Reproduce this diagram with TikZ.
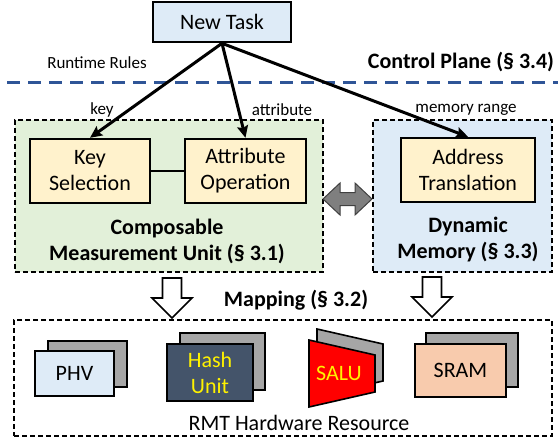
\documentclass[tikz,border=0pt]{standalone}
\usepackage{fontspec}
\setmainfont{Carlito}
\usetikzlibrary{arrows.meta}
\definecolor{cpblue}{HTML}{2F5597}
\definecolor{lightblue}{HTML}{DEEBF7}
\definecolor{lightgreen}{HTML}{E2F0D9}
\definecolor{lightyellow}{HTML}{FFF2CC}
\definecolor{sheetgray}{HTML}{A6A6A6}
\definecolor{slate}{HTML}{44546A}
\definecolor{sramorange}{HTML}{F8CBAD}
\definecolor{arrowgray}{HTML}{7F7F7F}
\definecolor{arrowedge}{HTML}{404040}
\begin{document}
\begin{tikzpicture}[x=1pt,y=-1pt,
  bigfont/.style={font=\fontsize{22}{26}\selectfont},
  boldfont/.style={font=\fontsize{22}{26}\selectfont\bfseries},
  smallfont/.style={font=\fontsize{17}{20}\selectfont},
  solidbox/.style={draw, line width=2.4pt, fill=lightyellow, inner sep=0pt, align=center, bigfont},
  dashbox/.style={draw, line width=2pt, dash pattern=on 5pt off 3pt, inner sep=0pt},
  txt/.style={inner sep=0pt, align=center},
  conn/.style={line width=3pt, -{Stealth[length=12pt,width=11pt,inset=2pt]}},
  backsheet/.style={draw, line width=1.6pt, fill=sheetgray, inner sep=0pt},
  frontsheet/.style={draw, line width=1.6pt, inner sep=0pt, align=center, bigfont},
  hollowarrow/.style={draw, line width=1.6pt, fill=white, line join=miter}
]
\useasboundingbox (0,0) rectangle (558,442);

% control plane separator
\draw[cpblue, line width=3pt, dash pattern=on 13pt off 8pt] (7,82) -- (558,82);
\node[txt, smallfont] (rules) at (97,63) {Runtime Rules};
\node[txt, boldfont] (cplane) at (461,62) {Control Plane (§ 3.4)};

% new task
\node[draw, line width=2.6pt, fill=lightblue, minimum width=138pt, minimum height=40pt, inner sep=0pt, bigfont] (task) at (222,22) {New Task};

% containers
\node[dashbox, fill=lightgreen, minimum width=308pt, minimum height=152pt] (cmu) at (169,196) {};
\node[dashbox, fill=lightblue, minimum width=179pt, minimum height=152pt] (dmem) at (462.5,196) {};

% inner boxes
\node[solidbox, minimum width=120pt, minimum height=64pt] (keysel) at (90,171) {Key\\Selection};
\node[solidbox, minimum width=121pt, minimum height=64pt] (attrop) at (245.5,171) {Attribute\\Operation};
\node[solidbox, minimum width=134pt, minimum height=64pt] (addr) at (468,170) {Address\\Translation};
\draw[line width=2pt] (keysel.east) -- (attrop.west);

\node[txt, boldfont] (cmulabel) at (167,241) {Composable\\Measurement Unit (§ 3.1)};
\node[txt, boldfont] (dmemlabel) at (468,240) {Dynamic\\Memory (§ 3.3)};

% connectors from the new task
\draw[conn] (task.south) -- (keysel.north);
\draw[conn] (task.south) -- (attrop.north);
\draw[conn] (task.south) -- (addr.north);
\node[txt, smallfont] (keylbl) at (102,110) {key};
\node[txt, smallfont] (attrlbl) at (282,110) {attribute};
\node[txt, smallfont] (memlbl) at (466,110) {memory range};

% double arrow between containers
\draw[fill=arrowgray, draw=arrowedge, line width=1pt, line join=miter]
  (323,199) -- (340,183) -- (340,192.5) -- (355,192.5) -- (355,183) -- (372,199)
  -- (355,215) -- (355,205.5) -- (340,205.5) -- (340,215) -- cycle;

% mapping arrows
\draw[hollowarrow] (162.5,278) -- (181.5,278) -- (181.5,298) -- (192,298) -- (172,318)
  -- (152,298) -- (162.5,298) -- cycle;
\draw[hollowarrow] (422.5,277) -- (441.5,277) -- (441.5,297) -- (452,297) -- (432,317)
  -- (412,297) -- (422.5,297) -- cycle;
\node[txt, boldfont] (maplbl) at (296,300) {Mapping (§ 3.2)};

% hardware resources
\node[dashbox, minimum width=538pt, minimum height=116pt] (rmt) at (283,378) {};

\node[backsheet, minimum width=79pt, minimum height=46pt] (phvback) at (87.5,364) {};
\node[frontsheet, fill=lightblue, minimum width=79pt, minimum height=45pt] (phv) at (74.5,373.5) {PHV};

\node[backsheet, minimum width=85pt, minimum height=57pt] (hashback) at (222.5,361.5) {};
\node[frontsheet, fill=slate, text=yellow, minimum width=86pt, minimum height=57pt] (hash) at (210,372.5) {Hash\\Unit};

\filldraw[fill=sheetgray, draw=black, line width=1.6pt, line join=miter]
  (317,329) -- (383,344) -- (383,381) -- (317,396) -- cycle;
\filldraw[fill=red, draw=black, line width=1.6pt, line join=miter]
  (309,340) -- (375,355) -- (375,392) -- (309,407) -- cycle;
\node[txt, bigfont, text=yellow] (salu) at (339,373) {SALU};

\node[backsheet, minimum width=92pt, minimum height=54pt] (sramback) at (472,360) {};
\node[frontsheet, fill=sramorange, minimum width=91pt, minimum height=53pt] (sram) at (460.5,370.5) {SRAM};

\node[txt, bigfont] (rmtlbl) at (299,423) {RMT Hardware Resource};
\end{tikzpicture}
\end{document}
